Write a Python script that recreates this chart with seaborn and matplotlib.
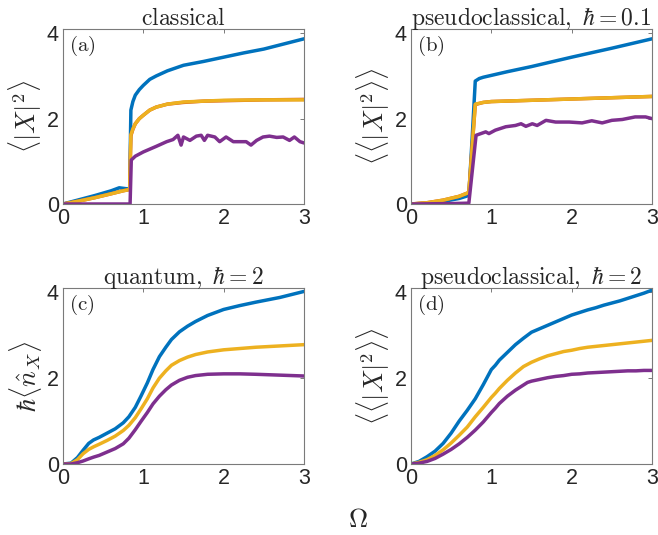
import numpy as np
import pandas as pd
import matplotlib
matplotlib.use("Agg")
import matplotlib.pyplot as plt
import seaborn as sns

# colours (matlab default order)
c_blue = "#0072BD"
c_red = "#D95319"
c_yel = "#EDB120"
c_pur = "#7E2F8E"

# --- (a) classical ---
a_blue_x = [0, 0.2, 0.4, 0.6, 0.7, 0.78, 0.83, 0.845, 0.87, 0.9, 0.95, 1.0, 1.08, 1.16, 1.3, 1.5, 1.75, 2.0, 2.25, 2.5, 2.75, 3.0]
a_blue_y = [0, 0.1, 0.2, 0.31, 0.38, 0.36, 0.35, 2.2, 2.4, 2.55, 2.68, 2.78, 2.92, 3.0, 3.12, 3.25, 3.34, 3.44, 3.54, 3.63, 3.75, 3.87]
a_yel_x = [0, 0.2, 0.4, 0.6, 0.75, 0.83, 0.845, 0.87, 0.9, 0.95, 1.0, 1.08, 1.16, 1.3, 1.5, 1.75, 2.0, 2.5, 3.0]
a_red_y = [0, 0.07, 0.15, 0.24, 0.31, 0.34, 1.6, 1.75, 1.88, 2.0, 2.08, 2.2, 2.27, 2.34, 2.38, 2.41, 2.42, 2.44, 2.45]
a_yel_y = [0, 0.07, 0.15, 0.24, 0.31, 0.34, 1.62, 1.76, 1.88, 2.0, 2.08, 2.2, 2.27, 2.34, 2.39, 2.41, 2.43, 2.44, 2.44]
a_pur_x = [0, 0.5, 0.835, 0.85, 0.9, 1.0, 1.16, 1.29, 1.37, 1.43, 1.47, 1.5, 1.58, 1.66, 1.72, 1.76, 1.8, 1.89, 1.95,
           2.03, 2.12, 2.2, 2.28, 2.34, 2.41, 2.49, 2.57, 2.66, 2.74, 2.82, 2.88, 2.95, 3.0]
a_pur_y = [0, 0, 0, 1.03, 1.12, 1.22, 1.35, 1.46, 1.51, 1.61, 1.38, 1.57, 1.49, 1.59, 1.61, 1.49, 1.61, 1.57, 1.46,
           1.57, 1.46, 1.46, 1.46, 1.38, 1.49, 1.57, 1.59, 1.56, 1.57, 1.49, 1.57, 1.46, 1.43]

# --- (b) pseudoclassical, hbar = 0.1 ---
b_blue_x = [0, 0.2, 0.4, 0.6, 0.72, 0.76, 0.8, 0.85, 0.9, 1.2, 1.5, 2.0, 2.5, 3.0]
b_blue_y = [0, 0.02, 0.06, 0.13, 0.2, 1.5, 2.88, 2.94, 2.97, 3.1, 3.22, 3.44, 3.65, 3.87]
b_yel_x = [0, 0.2, 0.4, 0.6, 0.72, 0.76, 0.8, 0.9, 1.0, 1.5, 2.0, 2.5, 3.0]
b_red_y = [0, 0.03, 0.09, 0.18, 0.27, 1.3, 2.33, 2.38, 2.4, 2.43, 2.46, 2.49, 2.52]
b_yel_y = [0, 0.03, 0.09, 0.18, 0.27, 1.3, 2.34, 2.38, 2.4, 2.43, 2.46, 2.49, 2.52]
b_pur_x = [0, 0.5, 0.72, 0.81, 0.87, 0.93, 0.97, 1.05, 1.18, 1.3, 1.37, 1.43, 1.51, 1.57, 1.68, 1.8, 1.97, 2.13,
           2.25, 2.38, 2.5, 2.63, 2.79, 2.92, 3.0]
b_pur_y = [0, 0.01, 0.02, 1.61, 1.65, 1.69, 1.65, 1.73, 1.81, 1.84, 1.88, 1.82, 1.88, 1.84, 1.96, 1.92, 1.92, 1.9,
           1.95, 1.9, 1.96, 1.98, 2.04, 2.04, 2.0]

# --- (c) quantum, hbar = 2 ---
c_x = [0, 0.1, 0.18, 0.25, 0.32, 0.38, 0.45, 0.55, 0.65, 0.75, 0.82, 0.9, 0.97, 1.05, 1.12, 1.2, 1.28, 1.35, 1.45,
       1.55, 1.65, 1.8, 2.0, 2.2, 2.4, 2.7, 3.0]
c_blue_y = [0, 0.02, 0.15, 0.32, 0.48, 0.56, 0.62, 0.72, 0.82, 0.96, 1.1, 1.32, 1.58, 1.89, 2.2, 2.5, 2.72, 2.9, 3.08,
            3.21, 3.32, 3.46, 3.6, 3.69, 3.77, 3.88, 4.02]
c_yel_y = [0, 0.01, 0.1, 0.24, 0.34, 0.4, 0.46, 0.55, 0.65, 0.78, 0.9, 1.08, 1.28, 1.52, 1.77, 2.0, 2.17, 2.3, 2.41,
           2.49, 2.55, 2.61, 2.66, 2.69, 2.72, 2.75, 2.78]
c_pur_y = [0, 0.0, 0.03, 0.07, 0.12, 0.16, 0.2, 0.28, 0.36, 0.47, 0.6, 0.8, 0.99, 1.2, 1.4, 1.58, 1.73, 1.84, 1.95,
           2.02, 2.06, 2.09, 2.1, 2.1, 2.09, 2.07, 2.05]

# --- (d) pseudoclassical, hbar = 2 ---
d_x = [0, 0.1, 0.2, 0.3, 0.4, 0.5, 0.6, 0.7, 0.8, 0.9, 1.0, 1.05, 1.1, 1.2, 1.3, 1.4, 1.45, 1.5, 1.6, 1.7, 1.8, 1.9,
       2.0, 2.1, 2.2, 2.3, 2.4, 2.5, 2.6, 2.7, 2.8, 2.9, 3.0]
d_blue_y = [0, 0.06, 0.17, 0.3, 0.48, 0.72, 1.0, 1.25, 1.52, 1.85, 2.2, 2.3, 2.42, 2.6, 2.78, 2.93, 3.0, 3.07, 3.15,
            3.23, 3.31, 3.39, 3.47, 3.53, 3.59, 3.64, 3.7, 3.75, 3.8, 3.86, 3.92, 3.98, 4.05]
d_yel_y = [0, 0.04, 0.1, 0.2, 0.33, 0.49, 0.67, 0.86, 1.1, 1.32, 1.55, 1.65, 1.76, 1.95, 2.12, 2.27, 2.32, 2.37, 2.45,
           2.52, 2.57, 2.62, 2.65, 2.69, 2.72, 2.74, 2.76, 2.78, 2.8, 2.82, 2.84, 2.86, 2.88]
d_pur_y = [0, 0.02, 0.06, 0.13, 0.23, 0.34, 0.47, 0.62, 0.79, 0.98, 1.2, 1.3, 1.41, 1.58, 1.72, 1.84, 1.9, 1.93, 1.97,
           2.01, 2.04, 2.06, 2.09, 2.1, 2.12, 2.13, 2.14, 2.15, 2.16, 2.17, 2.17, 2.18, 2.18]

titles = [r"$\mathrm{classical}$", r"$\mathrm{pseudoclassical,}\ \hbar = 0.1$",
          r"$\mathrm{quantum,}\ \hbar = 2$", r"$\mathrm{pseudoclassical,}\ \hbar = 2$"]
ylabels = [r"$\langle|X|^2\rangle$", r"$\langle\langle|X|^2\rangle\rangle$",
           r"$\hbar\langle\hat{n}_X\rangle$", r"$\langle\langle|X|^2\rangle\rangle$"]
tags = ["(a)", "(b)", "(c)", "(d)"]

panels = [
    [(a_blue_x, a_blue_y, c_blue), (a_yel_x, a_red_y, c_red), (a_yel_x, a_yel_y, c_yel), (a_pur_x, a_pur_y, c_pur)],
    [(b_blue_x, b_blue_y, c_blue), (b_yel_x, b_red_y, c_red), (b_yel_x, b_yel_y, c_yel), (b_pur_x, b_pur_y, c_pur)],
    [(c_x, c_blue_y, c_blue), (c_x, c_yel_y, c_yel), (c_x, c_pur_y, c_pur)],
    [(d_x, d_blue_y, c_blue), (d_x, d_yel_y, c_yel), (d_x, d_pur_y, c_pur)],
]

sns.set_style("white")
plt.rcParams["font.family"] = ["Liberation Sans", "DejaVu Sans"]
plt.rcParams["mathtext.fontset"] = "cm"

fig = plt.figure(figsize=(6.58, 5.35), dpi=100)
W, H = 658, 535
boxes = [(63, 29, 304, 204), (411, 29, 652, 204), (63, 288, 304, 464), (411, 288, 652, 464)]

for i, (l, t, r, b) in enumerate(boxes):
    ax = fig.add_axes([l / W, 1 - b / H, (r - l) / W, (b - t) / H])
    for xs, ys, col in panels[i]:
        df = pd.DataFrame({"x": xs, "y": ys})
        sns.lineplot(data=df, x="x", y="y", color=col, linewidth=2.5, estimator=None, sort=False, ax=ax)
    ax.set_xlim(0, 3)
    ax.set_ylim(0, 4.1)
    ax.set_xticks([0, 1, 2, 3])
    ax.set_yticks([0, 2, 4])
    ax.tick_params(direction="in", length=3, width=0.7, colors="#7a7a7a", labelcolor="#262626",
                   labelsize=15.5, top=True, right=True, pad=3)
    for s in ax.spines.values():
        s.set_color("#7a7a7a")
        s.set_linewidth(0.8)
    ax.set_xlabel("")
    ax.set_ylabel(ylabels[i], fontsize=19, color="#262626", labelpad=2)
    ax.set_title(titles[i], fontsize=17, pad=3)
    ax.text(0.025, 0.975, r"$\mathrm{" + tags[i] + "}$", transform=ax.transAxes, fontsize=15,
            ha="left", va="top", color="#262626")

fig.text(357.5 / W, 1 - 520 / H, r"$\Omega$", fontsize=19, ha="center", va="center", color="#262626")

fig.savefig("out.png", dpi=100)
